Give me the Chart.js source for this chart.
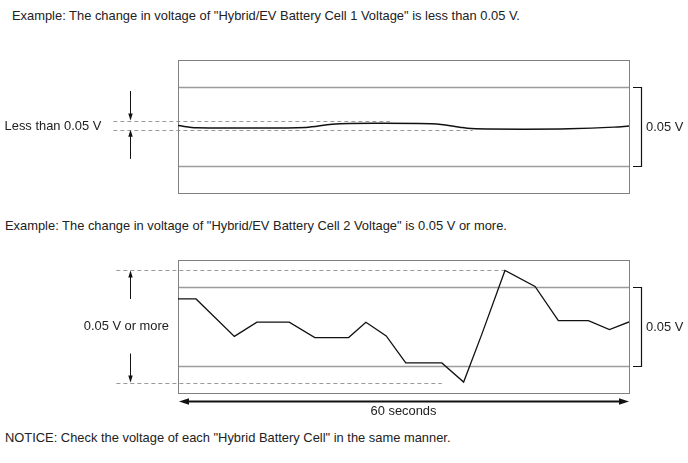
<!DOCTYPE html>
<html><head><meta charset="utf-8">
<script src="https://cdn.jsdelivr.net/npm/chart.js@4/dist/chart.umd.min.js"></script>
<style>
html,body{margin:0;padding:0;background:#fff;width:688px;height:463px;overflow:hidden;position:relative;font-family:"Liberation Sans",Arial,sans-serif;}
.t{position:absolute;font-size:12.9px;color:#222;white-space:nowrap;line-height:14px;}
canvas{position:absolute;left:0;}
</style></head><body>
<div class="t" style="left:12px;top:9px">Example: The change in voltage of "Hybrid/EV Battery Cell 1 Voltage" is less than 0.05 V.</div>
<canvas id="c1" width="688" height="180" style="top:30px"></canvas>
<div class="t" style="left:5px;top:219px">Example: The change in voltage of "Hybrid/EV Battery Cell 2 Voltage" is 0.05 V or more.</div>
<canvas id="c2" width="688" height="190" style="top:240px"></canvas>
<div class="t" style="left:5px;top:431px">NOTICE: Check the voltage of each "Hybrid Battery Cell" in the same manner.</div>
<script>
// time in seconds, voltage change in mV (relative to the lower reference line)
const cell1Times = [0, 2.5, 11, 17, 20.5, 26, 32, 35, 37.5, 39, 46, 52, 58, 60];
const cell1Volts = [25.6, 24.2, 24.0, 24.4, 26.4, 27.0, 26.9, 26.3, 24.5, 23.7, 23.3, 23.5, 24.6, 25.3];
const cell2Times = [0, 2.4, 7.5, 10.5, 14.8, 18.2, 22.7, 25, 27.7, 30.3, 35.1, 38, 40.4, 43.5, 47.5, 50.6, 54.6, 57.4, 60];
const cell2Volts = [42.6, 42.6, 18.7, 27.8, 27.8, 17.9, 17.9, 27.7, 19.0, 1.7, 1.7, -10.5, 19.8, 60.8, 50.6, 28.7, 28.7, 23.0, 27.9];
const gridValues = [0, 50];          // reference lines 0.05 V apart
const yRange = [-17.5, 67.5];
const xRange = [0, 60];
const bracketLabel = "0.05 V";
const cell1Label = "Less than 0.05 V";
const cell2Label = "0.05 V or more";
const spanLabel = "60 seconds";

function seg(ctx,x1,y1,x2,y2){ctx.beginPath();ctx.moveTo(x1,y1);ctx.lineTo(x2,y2);ctx.stroke();}
function head(ctx,tx,ty,dx,dy,len,w){
  const px=-dy, py=dx;
  ctx.beginPath();
  ctx.moveTo(tx,ty);
  ctx.lineTo(tx-dx*len+px*w/2, ty-dy*len+py*w/2);
  ctx.lineTo(tx-dx*len-px*w/2, ty-dy*len-py*w/2);
  ctx.closePath();ctx.fill();
}
const FONT = '12.9px "Liberation Sans", Arial, sans-serif';
const diagram = {
  id:'diagram',
  beforeDatasetsDraw(chart, args, o){
    const {ctx, chartArea:a, scales:{x,y}} = chart;
    ctx.save();
    ctx.strokeStyle='#9c9c9c'; ctx.lineWidth=1.3;
    gridValues.forEach(v=>{const py=Math.round(y.getPixelForValue(v))+0.5; seg(ctx,a.left,py,a.right,py);});
    ctx.setLineDash([4,3]); ctx.strokeStyle='#9a9a9a'; ctx.lineWidth=1;
    o.dashes.forEach(d=>{const py=Math.round(y.getPixelForValue(d.v))+0.5; seg(ctx,x.getPixelForValue(d.from),py,x.getPixelForValue(d.to),py);});
    ctx.setLineDash([]);
    ctx.strokeStyle='#808080'; ctx.lineWidth=1;
    ctx.strokeRect(Math.round(a.left)+0.5, Math.round(a.top)+0.5, Math.round(a.right-a.left), Math.round(a.bottom-a.top));
    ctx.restore();
  },
  afterDatasetsDraw(chart, args, o){
    const {ctx, chartArea:a, scales:{x,y}} = chart;
    ctx.save();
    ctx.strokeStyle='#111'; ctx.fillStyle='#111'; ctx.lineWidth=1.2;
    // right bracket
    const bx=Math.round(a.right)+12.5, y1=Math.round(y.getPixelForValue(gridValues[1]))+0.5, y0=Math.round(y.getPixelForValue(gridValues[0]))+0.5;
    ctx.beginPath();ctx.moveTo(a.right+4,y1);ctx.lineTo(bx,y1);ctx.lineTo(bx,y0);ctx.lineTo(a.right+4,y0);ctx.stroke();
    ctx.font=FONT; ctx.fillStyle='#222'; ctx.textBaseline='middle'; ctx.textAlign='left';
    ctx.fillText(bracketLabel, bx+4.5, (y0+y1)/2);
    // left arrows
    ctx.fillStyle='#111'; ctx.lineWidth=1;
    o.arrows.forEach(ar=>{
      const px=Math.round(x.getPixelForValue(ar.x))+0.5, ys=y.getPixelForValue(ar.from), yt=y.getPixelForValue(ar.to);
      const dir=Math.sign(yt-ys);
      seg(ctx,px,ys,px,yt-dir*5);
      head(ctx,px,yt,0,dir,7,4.5);
    });
    ctx.fillStyle='#222'; ctx.textAlign='right';
    ctx.fillText(o.label.text, x.getPixelForValue(o.label.x), y.getPixelForValue(o.label.y));
    // span arrow
    if(o.span){
      const sy=a.bottom+8.5, xl=x.getPixelForValue(xRange[0])+1, xr=x.getPixelForValue(xRange[1]);
      ctx.strokeStyle='#111'; ctx.fillStyle='#111'; ctx.lineWidth=2;
      seg(ctx,xl+6,sy,xr-6,sy);
      head(ctx,xl,sy,-1,0,10,6.5);
      head(ctx,xr,sy,1,0,10,6.5);
      ctx.fillStyle='#222'; ctx.textAlign='center';
      ctx.fillText(spanLabel, x.getPixelForValue((xRange[0]+xRange[1])/2), sy+9.5);
    }
    ctx.restore();
  }
};
function make(id, times, volts, pad, extra, smooth){
  return new Chart(document.getElementById(id), {
    type:'line',
    data:{datasets:[{data:times.map((t,i)=>({x:t,y:volts[i]})), borderColor:'#111', borderWidth:smooth?1.5:1.3, pointRadius:0, fill:false, tension:smooth?0.4:0, cubicInterpolationMode:smooth?'monotone':'default'}]},
    options:{
      responsive:false, animation:false, devicePixelRatio:1,
      layout:{padding:pad},
      scales:{
        x:{type:'linear', min:xRange[0], max:xRange[1], display:false},
        y:{min:yRange[0], max:yRange[1], display:false}
      },
      plugins:{legend:{display:false}, tooltip:{enabled:false}, diagram:extra}
    },
    plugins:[diagram]
  });
}
make('c1', cell1Times, cell1Volts, {left:178, right:59, top:30, bottom:17}, {
  dashes:[{v:28.8, from:-8.6, to:28.2},{v:22.9, from:-8.6, to:39.2}],
  arrows:[{x:-6.4, from:47.7, to:28.8},{x:-6.4, from:4.3, to:22.9}],
  label:{text:cell1Label, x:-10.2, y:25.3}
}, true);
make('c2', cell2Times, cell2Volts, {left:178, right:59, top:20, bottom:37}, {
  dashes:[{v:60.8, from:-8.2, to:43.5},{v:-10.8, from:-8.2, to:35.1}],
  arrows:[{x:-6.45, from:42.6, to:60.8},{x:-6.45, from:7.7, to:-10.8}],
  label:{text:cell2Label, x:-1.2, y:25.3},
  span:true
}, false);
</script>
</body></html>
